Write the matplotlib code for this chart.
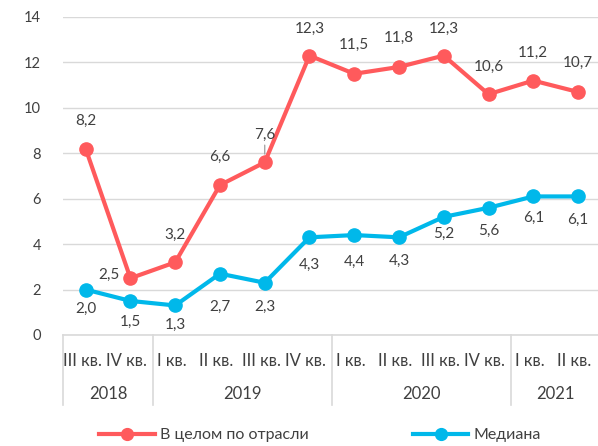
import matplotlib
matplotlib.use("Agg")
import matplotlib.pyplot as plt
from matplotlib.lines import Line2D

plt.rcParams['font.family'] = ['Lato', 'DejaVu Sans']

quarters = ["III кв.", "IV кв.", "I кв.", "II кв.", "III кв.", "IV кв.",
            "I кв.", "II кв.", "III кв.", "IV кв.", "I кв.", "II кв."]
years = ["2018", "2019", "2020", "2021"]
year_span = [2, 4, 4, 2]
industry = [8.2, 2.5, 3.2, 6.6, 7.6, 12.3, 11.5, 11.8, 12.3, 10.6, 11.2, 10.7]
median = [2.0, 1.5, 1.3, 2.7, 2.3, 4.3, 4.4, 4.3, 5.2, 5.6, 6.1, 6.1]

RED = "#FF5A5C"
BLUE = "#00B8EA"
TXT = "#404040"
GRID = "#D9D9D9"

W, H = 598, 446
fig = plt.figure(figsize=(W / 100, H / 100), dpi=100)

left = 63.3 / W
right = 600.4 / W
ax = fig.add_axes([left, 1 - 335 / H, right - left, (335 - 17) / H])
x = list(range(len(quarters)))

ax.plot(x, industry, color=RED, lw=3, marker="o", ms=9.5, clip_on=False, zorder=3)
ax.plot(x, median, color=BLUE, lw=3, marker="o", ms=9.5, clip_on=False, zorder=3)

ax.set_xlim(-0.5, len(quarters) - 0.5)
ax.set_ylim(0, 14)
ax.set_yticks(range(0, 15, 2))
ax.set_xticks([])
ax.yaxis.grid(True, color=GRID, lw=1)
ax.set_axisbelow(True)
for s in ax.spines.values():
    s.set_visible(False)
ax.tick_params(axis="y", length=0, pad=16, labelsize=10.5, labelcolor=TXT)

def fmt(v):
    return f"{v:.1f}".replace(".", ",")

# label offsets in pixels (dx, dy)
red_off = [(0, 28), (-22, 3), (0, 27), (0, 28), (0, 27), (0, 27),
           (0, 29), (0, 29), (0, 27), (0, 27), (0, 28), (0, 29)]
blue_off = [(0, -19), (0, -21), (0, -19), (0, -33), (0, -24), (0, -28),
            (0, -27), (0, -24), (0, -17), (0, -23), (0, -21), (0, -23)]

for i, v in enumerate(industry):
    dx, dy = red_off[i]
    kw = {}
    if i == 4:
        kw = dict(arrowprops=dict(arrowstyle="-", color="#A6A6A6", lw=1,
                                  shrinkA=0, shrinkB=6))
    ax.annotate(fmt(v), (i, v), xytext=(dx, dy), textcoords="offset pixels",
                ha="center", va="center", fontsize=11, color=TXT,
                annotation_clip=False, **kw)
for i, v in enumerate(median):
    dx, dy = blue_off[i]
    ax.annotate(fmt(v), (i, v), xytext=(dx, dy), textcoords="offset pixels",
                ha="center", va="center", fontsize=11, color=TXT,
                annotation_clip=False)

# category table under the chart
tx = fig.add_axes([left, 1 - 405 / H, right - left, 70 / H])
tx.set_xlim(-0.5, len(quarters) - 0.5)
tx.set_ylim(0, 1)
tx.axis("off")
tx.plot([-0.5, len(quarters) - 0.5], [1, 1], color=GRID, lw=1.2, clip_on=False)
for i, q in enumerate(quarters):
    tx.text(i - 0.08, 0.63, q, ha="center", va="center", fontsize=12, color=TXT)
start = -0.5
for yname, n in zip(years, year_span):
    tx.plot([start, start], [0, 1], color=GRID, lw=1.2, clip_on=False)
    tx.text(start + n / 2, 0.157, yname, ha="center", va="center",
            fontsize=12, color=TXT)
    start += n

handles = [Line2D([], [], color=RED, lw=3, marker="o", ms=8.5),
           Line2D([], [], color=BLUE, lw=3, marker="o", ms=8.5)]
fig.legend(handles, ["В целом по отрасли", "Медиана"], loc="center",
           bbox_to_anchor=(320 / W, 1 - 435 / H), ncol=2, frameon=False,
           fontsize=11.5, labelcolor=TXT, handlelength=3.5, handletextpad=0.3,
           columnspacing=6.5)

fig.savefig("out.png", dpi=100)
